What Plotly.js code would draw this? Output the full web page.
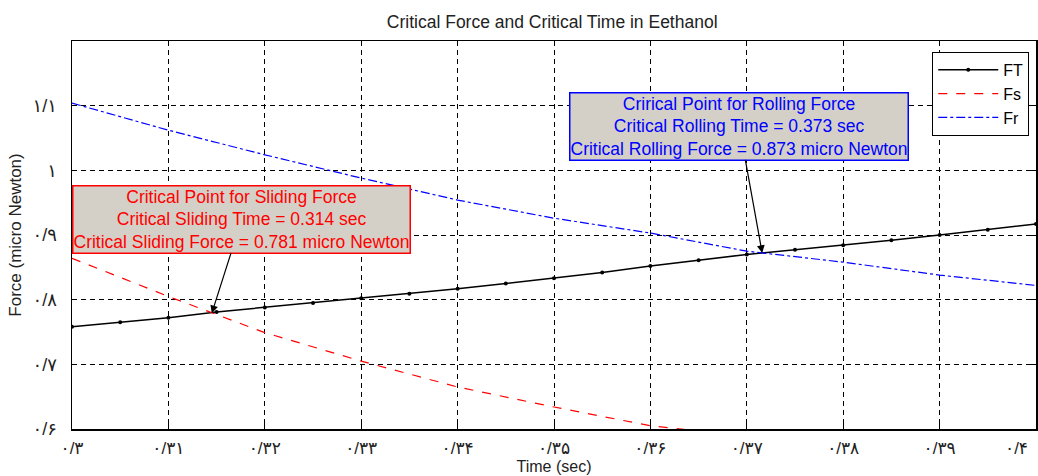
<!DOCTYPE html>
<html>
<head>
<meta charset="utf-8">
<script src="https://cdn.plot.ly/plotly-3.0.1.min.js"></script>
<style>html,body{margin:0;padding:0;background:#fff;}#chart{width:1038px;height:476px;}</style>
</head>
<body>
<div id="chart"></div>
<script>
// Time (sec)
const timeFT = [0.300,0.305,0.310,0.315,0.320,0.325,0.330,0.335,0.340,0.345,0.350,0.355,0.360,0.365,0.370,0.375,0.380,0.385,0.390,0.395,0.400];
const forceFT = [0.758,0.765,0.772,0.781,0.788,0.795,0.802,0.809,0.817,0.825,0.833,0.842,0.852,0.861,0.870,0.877,0.884,0.892,0.900,0.908,0.917];

const timeFs = [0.300,0.310,0.320,0.330,0.340,0.350,0.360,0.365];
const forceFs = [0.864,0.805,0.749,0.705,0.665,0.634,0.605,0.597];

const timeFr = [0.300,0.310,0.320,0.330,0.340,0.350,0.360,0.370,0.380,0.390,0.400];
const forceFr = [1.104,1.062,1.024,0.988,0.954,0.926,0.903,0.875,0.858,0.838,0.822];

const xTickVals = [0.30,0.31,0.32,0.33,0.34,0.35,0.36,0.37,0.38,0.39,0.40];
const xTickText = ['۰/۳','۰/۳۱','۰/۳۲','۰/۳۳','۰/۳۴','۰/۳۵','۰/۳۶','۰/۳۷','۰/۳۸','۰/۳۹','۰/۴'];
const yTickVals = [0.6,0.7,0.8,0.9,1.0,1.1];
const yTickText = ['۰/۶','۰/۷','۰/۸','۰/۹','۱','۱/۱'];

const critSliding = {t: 0.3145, f: 0.779};
const critRolling = {t: 0.3716, f: 0.872};

const FONT = 'Liberation Sans, Arial, DejaVu Sans, sans-serif';
const TICKSIZE = 17;

// last x label sits inside the right edge (drawn as an annotation so it is not clipped)
const lastIdx = xTickVals.length - 1;
const xTickTextShown = xTickText.map((t, i) => i === lastIdx ? '' : t);

const traces = [
  {x: timeFT, y: forceFT, name: 'FT', mode: 'lines+markers', type: 'scatter',
   line: {color: 'black', width: 1.5}, marker: {color: 'black', size: 4, symbol: 'circle'}},
  {x: timeFs, y: forceFs, name: 'Fs', mode: 'lines', type: 'scatter',
   line: {color: '#ff0000', width: 1.2, dash: 'dash'}},
  {x: timeFr, y: forceFr, name: 'Fr', mode: 'lines', type: 'scatter',
   line: {color: '#0000ff', width: 1.2, dash: 'dashdot'}}
];

const axisCommon = {
  showline: true, linecolor: 'black', linewidth: 1.5, mirror: 'ticks',
  ticks: 'inside', ticklen: 5, tickcolor: 'black', tickwidth: 1,
  showgrid: true, gridcolor: 'black', gridwidth: 1, griddash: '5px,4px',
  zeroline: false, tickfont: {family: FONT, size: TICKSIZE, color: '#222'}
};

const layout = {
  width: 1038, height: 476,
  margin: {l: 72, r: 2, t: 41, b: 47},
  paper_bgcolor: 'white', plot_bgcolor: 'white',
  font: {family: FONT, color: '#222'},
  title: {text: 'Critical Force and Critical Time in Eethanol', font: {family: FONT, size: 17.5, color: '#222'},
          x: 0.532, xanchor: 'center', y: 0.955, yanchor: 'middle'},
  xaxis: Object.assign({}, axisCommon, {
    range: [0.30, 0.40], tickmode: 'array', tickvals: xTickVals, ticktext: xTickTextShown,
    ticklabelstandoff: 3,
    title: {text: 'Time (sec)', font: {family: FONT, size: 16, color: '#222'}, standoff: 3}
  }),
  yaxis: Object.assign({}, axisCommon, {
    range: [0.6, 1.2], tickmode: 'array', tickvals: yTickVals, ticktext: yTickText,
    ticklabelstandoff: 10, tickfont: {family: FONT, size: 18, color: '#222'},
    title: {text: 'Force (micro Newton)', font: {family: FONT, size: 17, color: '#222'}, standoff: 6}
  }),
  showlegend: true,
  legend: {x: 0.993, xanchor: 'right', y: 0.972, yanchor: 'top', bgcolor: 'white',
           bordercolor: 'black', borderwidth: 1, font: {family: FONT, size: 16, color: 'black'},
           tracegroupgap: 0, itemwidth: 60},
  annotations: [
    {x: critSliding.t, y: critSliding.f, xref: 'x', yref: 'y', ax: 30, ay: -94,
     text: 'Critical Point for Sliding Force<br>Critical Sliding Time = 0.314 sec<br>Critical Sliding Force = 0.781 micro Newton',
     showarrow: true, arrowhead: 2, arrowsize: 1.3, arrowwidth: 1.2, arrowcolor: 'black',
     bgcolor: '#d4d0c8', bordercolor: 'red', borderwidth: 1.5, borderpad: 0,
     font: {family: FONT, size: 17.5, color: 'red'}, align: 'center'},
    {x: critRolling.t, y: critRolling.f, xref: 'x', yref: 'y', ax: -23, ay: -127,
     text: 'Crirical Point for Rolling Force<br>Critical Rolling Time = 0.373 sec<br>Critical Rolling Force = 0.873 micro Newton',
     showarrow: true, arrowhead: 2, arrowsize: 1.3, arrowwidth: 1.2, arrowcolor: 'black',
     bgcolor: '#d4d0c8', bordercolor: 'blue', borderwidth: 1.5, borderpad: 0,
     font: {family: FONT, size: 17.5, color: 'blue'}, align: 'center'},
    {x: xTickVals[lastIdx], y: 0, xref: 'x', yref: 'paper', xanchor: 'right', yanchor: 'top',
     yshift: -8, xshift: -6, text: xTickText[lastIdx], showarrow: false,
     font: {family: FONT, size: TICKSIZE, color: '#222'}}
  ]
};

Plotly.newPlot('chart', traces, layout, {displayModeBar: false, staticPlot: true});
</script>
</body>
</html>
